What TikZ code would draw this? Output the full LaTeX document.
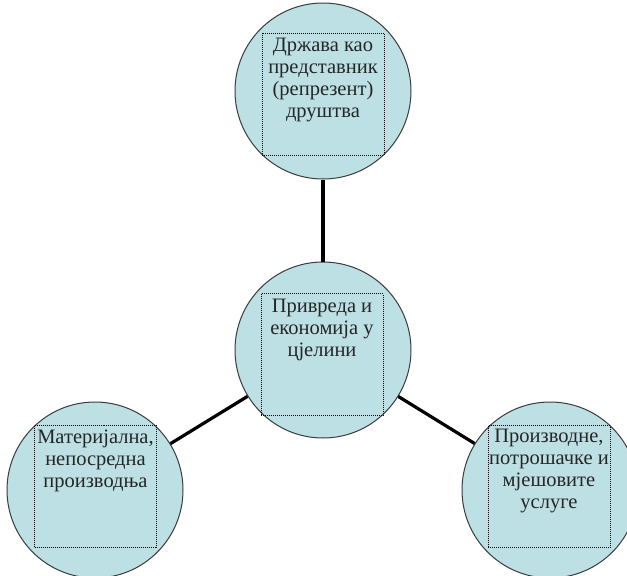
\documentclass[tikz,border=0pt]{standalone}
\usepackage{fontspec}
\setmainfont{Liberation Serif}
\definecolor{circfill}{RGB}{188,224,228}
\definecolor{circline}{RGB}{60,60,60}
\tikzset{
  bubble/.style={circle, draw=circline, line width=1pt, fill=circfill, minimum size=176pt, inner sep=0pt},
  dotbox/.style={rectangle, draw=black, line width=0.9pt, dash pattern=on 1pt off 1pt, minimum width=122pt, minimum height=122pt, inner sep=0pt},
  label/.style={anchor=north, align=center, inner sep=0pt, text=black!85, font={\fontsize{20.5}{22}\selectfont}},
  link/.style={draw=black, line width=3.2pt}
}
\begin{document}
\begin{tikzpicture}[x=1pt, y=-1pt]
\useasboundingbox (0,0) rectangle (627,576);
\node[bubble] (top) at (323,91) {};
\node[bubble] (mid) at (323,350) {};
\node[bubble] (left) at (95,490) {};
\node[bubble] (right) at (550,490) {};
\draw[link] (top) -- (mid);
\draw[link] (mid) -- (left);
\draw[link] (mid) -- (right);
\node[dotbox] (btop) at (323,94) {};
\node[dotbox] (bmid) at (322,354.5) {};
\node[dotbox] (bleft) at (95.5,486.5) {};
\node[dotbox] (bright) at (549,486.5) {};
\node[label] (ttop) at ([yshift=-5.5pt]btop.north) {Држава као\\представник\\(репрезент)\\друштва};
\node[label] (tmid) at ([yshift=-5.5pt]bmid.north) {Привреда и\\економија у\\цјелини};
\node[label] (tleft) at ([yshift=-4.5pt]bleft.north) {Материјална,\\непосредна\\производња};
\node[label] (tright) at ([yshift=-3.5pt]bright.north) {Производне,\\потрошачке и\\мјешовите\\услуге};
\end{tikzpicture}
\end{document}
